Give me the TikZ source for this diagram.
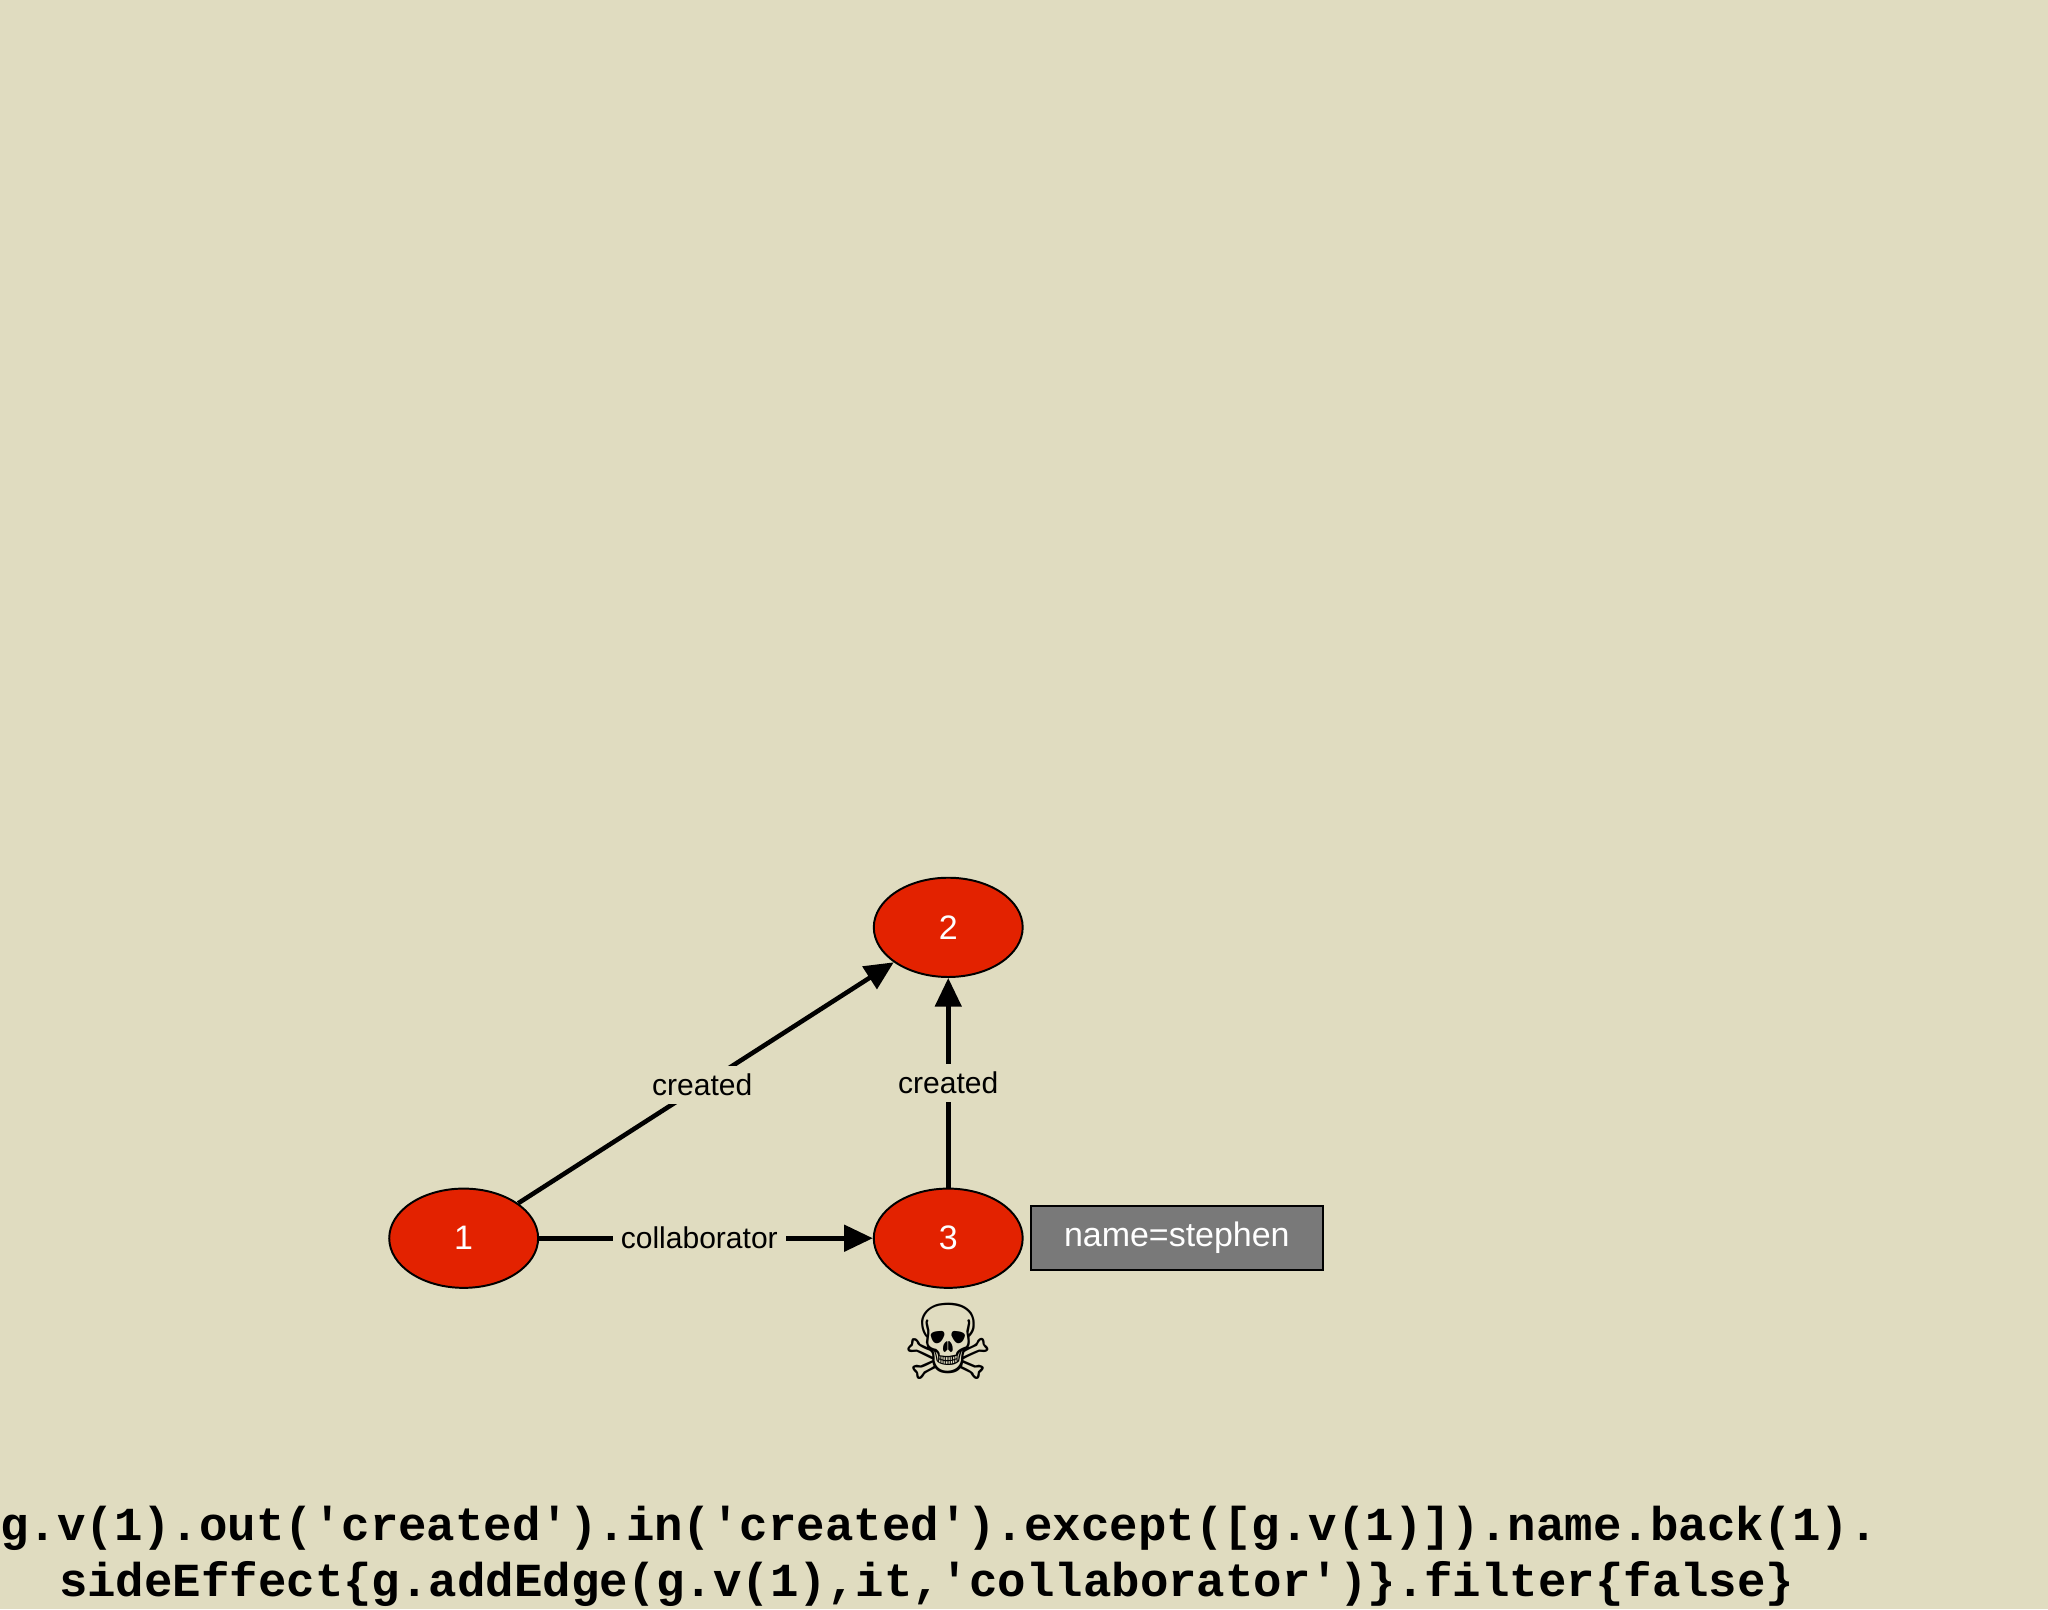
\documentclass[tikz,border=0pt]{standalone}
\usepackage{fontspec}
\setmainfont{Liberation Sans}
\newfontfamily\codefont{Liberation Mono}
\newfontfamily\symfont{DejaVu Sans}
\usetikzlibrary{arrows.meta,shapes.geometric}
\definecolor{bg}{HTML}{E0DCC0}
\definecolor{vred}{HTML}{E32200}
\begin{document}
\begin{tikzpicture}[x=1pt,y=-1pt,
  vert/.style={ellipse,draw=black,line width=1.5pt,fill=vred,minimum width=114pt,minimum height=76pt,inner sep=0pt,text=white,font=\fontsize{26}{30}\selectfont},
  edge/.style={line width=3.5pt,-{Triangle[length=22pt,width=20pt]}},
  elabel/.style={fill=bg,inner sep=6pt,font=\fontsize{23}{27}\selectfont},
  code/.style={anchor=west,font=\codefont\bfseries\fontsize{36.3}{40}\selectfont,inner sep=0pt}]
\fill[bg] (0,0) rectangle (1568,1232);
\useasboundingbox (0,0) rectangle (1568,1232);
\node[vert] (n1) at (355,948) {1};
\node[vert] (n2) at (726,710) {2};
\node[vert] (n3) at (726,948) {3};
\node[draw=black,line width=1.5pt,fill=gray!95!black,text=white,minimum width=224pt,minimum height=49pt,inner sep=0pt,font=\fontsize{26}{30}\selectfont] (prop) at (901,947.5) {name=stephen};
\node[font=\symfont\fontsize{80}{80}\selectfont,inner sep=0pt] (skull) at (726,1027) {☠};
\draw[edge] (n1) -- node[elabel,pos=0.49]{created} (n2);
\draw[edge] (n3) -- node[elabel]{created} (n2);
\draw[edge] (n1) -- node[elabel,pos=0.48]{collaborator} (n3);
\node[code] (c1) at (0,1170) {g.v(1).out('created').in('created').except([g.v(1)]).name.back(1).};
\node[code] (c2) at (45,1213) {sideEffect\{g.addEdge(g.v(1),it,'collaborator')\}.filter\{false\}};
\end{tikzpicture}
\end{document}
